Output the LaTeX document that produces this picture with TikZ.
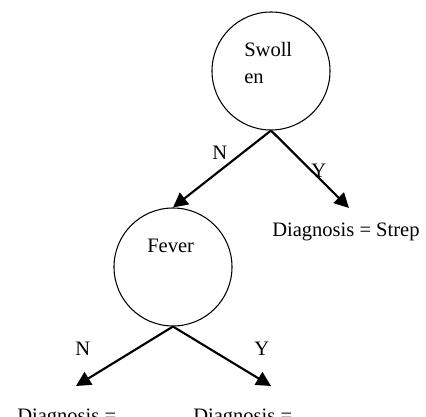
\documentclass[tikz,border=0pt]{standalone}
\usepackage{fontspec}
\setmainfont{Liberation Serif}
\usetikzlibrary{arrows.meta}
\begin{document}
\begin{tikzpicture}[x=0.75pt,y=-0.75pt,
  decision/.style={circle,draw,line width=0.8pt,minimum size=88.5pt,inner sep=0pt},
  lbl/.style={anchor=base west,inner sep=0pt,font=\fontsize{15.4}{18}\selectfont},
  branch/.style={line width=1.6pt,-{Triangle[length=11pt,width=11pt]}}]
\useasboundingbox (0,0) rectangle (426,417);
\node[decision] (sw) at (271,71) {};
\node[lbl] (swt1) at (244,57) {Swoll};
\node[lbl] (swt2) at (244,84) {en};
\node[decision] (fe) at (173,267) {};
\node[lbl] (fet) at (147,253) {Fever};
\coordinate (tipS) at (349,208);
\coordinate (tipL) at (76,386);
\coordinate (tipR) at (271,386);
\draw[branch] (sw.south) -- (fe.north);
\draw[branch] (sw.south) -- (tipS);
\draw[branch] (fe.south) -- (tipL);
\draw[branch] (fe.south) -- (tipR);
\node[lbl] (n1) at (212,160) {N};
\node[lbl] (y1) at (311,178) {Y};
\node[lbl] (n2) at (75,356) {N};
\node[lbl] (y2) at (254,356) {Y};
\node[lbl] (d1) at (272,237) {Diagnosis = Strep};
\node[lbl] (d2) at (17,423) {Diagnosis =};
\node[lbl] (d3) at (193,423) {Diagnosis =};
\end{tikzpicture}
\end{document}
